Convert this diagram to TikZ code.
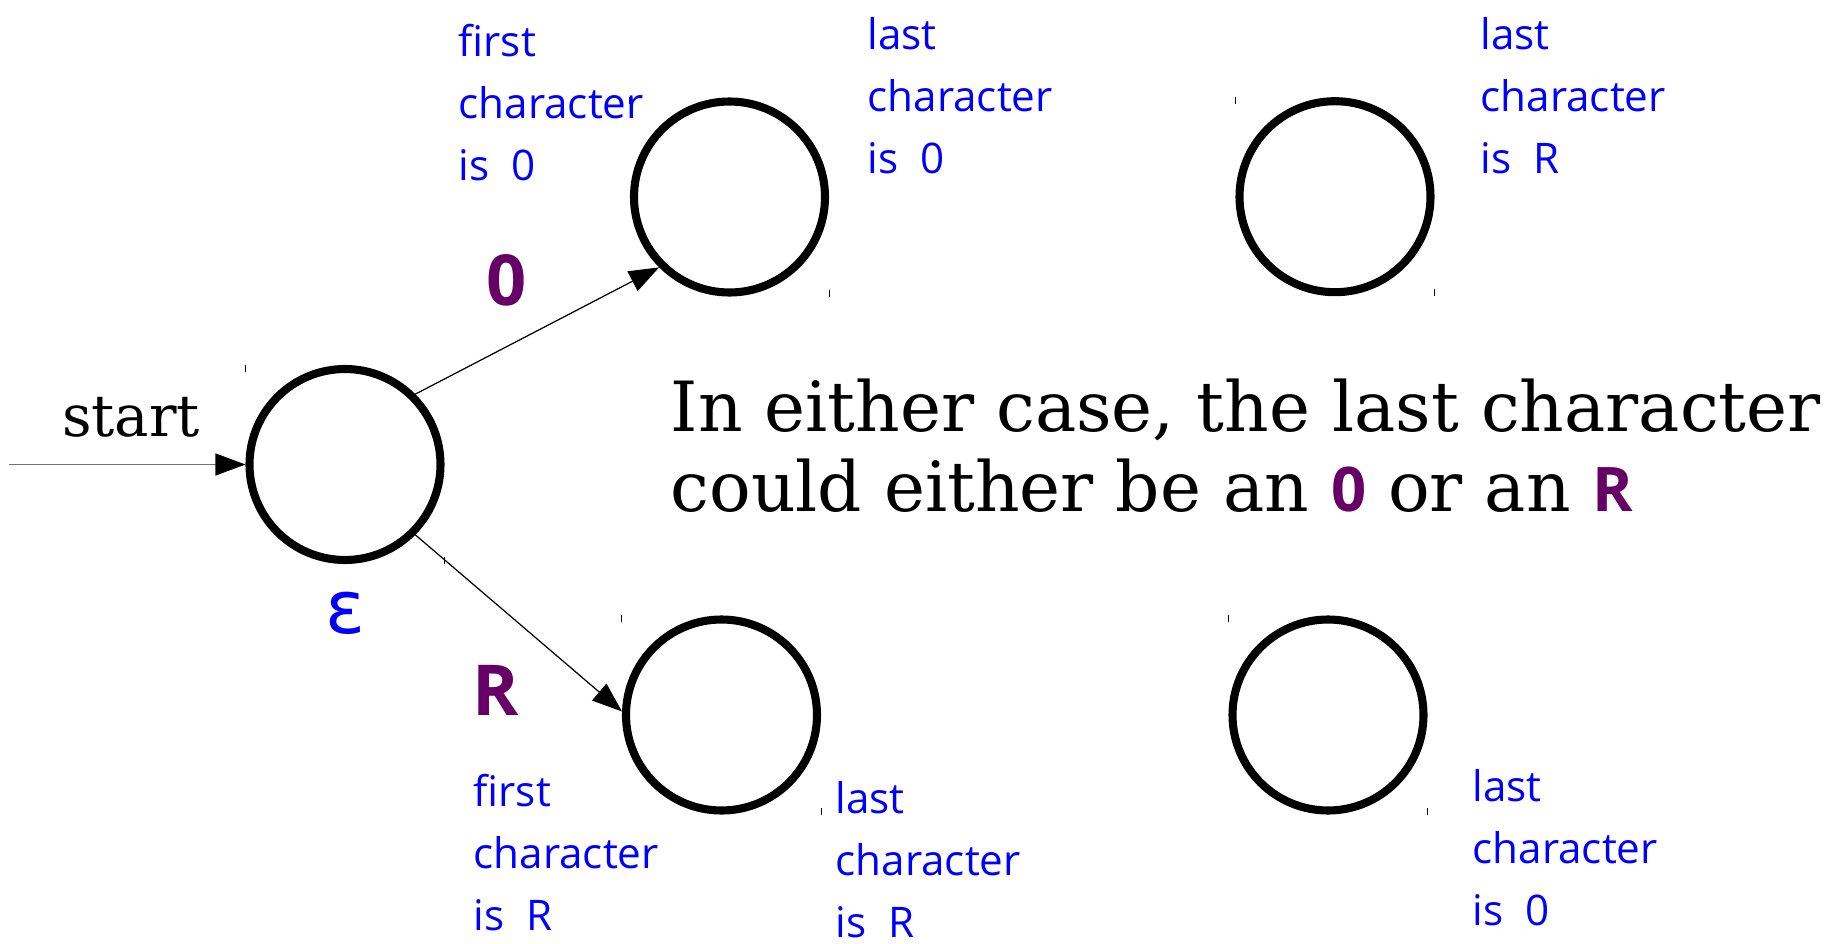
\documentclass[tikz,border=0pt]{standalone}
\usepackage{fontspec}
\setmainfont{DejaVu Serif}
\newfontfamily\handfont{Open Sans}
\newfontfamily\symfont{Open Sans}
\newfontfamily\epsfont{DejaVu Sans}
\usetikzlibrary{arrows.meta}
\definecolor{symcol}{RGB}{102,0,102}
\definecolor{notecol}{RGB}{0,0,255}
\newcommand\symb[1]{\textcolor{symcol}{\symfont\bfseries\fontsize{17.5}{22.8}\selectfont #1}}

\begin{document}
\begin{tikzpicture}[
  state/.style={draw, circle, line width=2.3pt, minimum size=19.1mm,
                inner sep=0pt},
  trans/.style={draw, line width=.35pt,
                -{Triangle[length=3mm, width=2.2mm, black]}},
  note/.style={anchor=base west, align=left, text=notecol, inner sep=0pt,
               font=\handfont\fontsize{12}{17.6}\selectfont},
  sym/.style={anchor=base, text=symcol, inner sep=0pt,
              font=\symfont\bfseries\fontsize{20}{24}\selectfont},
  cornermark/.style={line width=.3pt}
]
\useasboundingbox (0,0) rectangle (18.44,-9.44);

% states
\node[state] (eps) at (3.45,-4.645) {};
\node[state] (oo) at (7.295,-1.97) {};
\node[state] (or) at (13.35,-1.967) {};
\node[state] (rr) at (7.215,-7.15) {};
\node[state] (ro) at (13.28,-7.15) {};

% start arrow and state label
\coordinate (entry) at (0.094,-4.645);
\node[anchor=base, inner sep=0pt, font=\fontsize{16.4}{20}\selectfont]
  (startlbl) at (1.31,-4.367) {start};
\draw[trans, draw=black!55] (entry) -- (eps.west);
\node[anchor=base, inner sep=0pt, text=notecol,
      font=\epsfont\fontsize{21}{24}\selectfont] (epslbl) at (3.45,-6.33) {ε};

% transitions
\draw[trans] (eps.45) -- (oo.225);
\draw[trans] (eps.-45) -- (rr.178);
\node[sym] (lblo) at (5.07,-3.05) {0};
\node[sym] (lblr) at (4.955,-7.15) {R};

% small marks at the corners of each state
\foreach \n in {eps,oo,or,rr,ro} {
  \draw[cornermark] (\n.west |- \n.north) -- ++(0,-.07);
  \draw[cornermark] (\n.east |- \n.south) -- ++(0,.07);
}

% notes (anchored at the baseline of their last line)
\node[note] (noo1) at (4.58,-1.80) {first\\character\\is~~0};
\node[note] (noo2) at (8.67,-1.73) {last\\character\\is~~0};
\node[note] (nor) at (14.80,-1.73) {last\\character\\is~~R};
\node[note] (nrr1) at (4.73,-9.30) {first\\character\\is~~R};
\node[note] (nrr2) at (8.35,-9.37) {last\\character\\is~~R};
\node[note] (nro) at (14.72,-9.25) {last\\character\\is~~0};

% remark
\node[anchor=base west, align=left, inner sep=0pt,
      font=\fontsize{19.7}{22.8}\selectfont] (remark) at (6.70,-5.116)
  {In either case, the last character\\could either be an \symb{0} or an \symb{R}};
\end{tikzpicture}
\end{document}
